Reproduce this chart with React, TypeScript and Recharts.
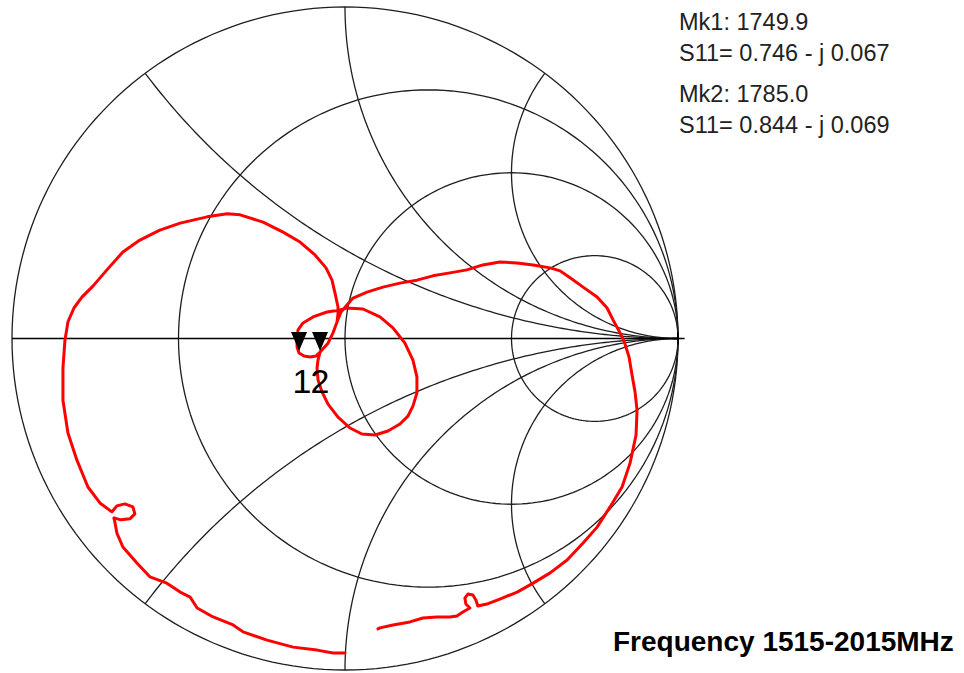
import React from "react";
import { ScatterChart, Scatter, XAxis, YAxis } from "recharts";

type Pt = { x: number; y: number };

// S11 trace as reflection coefficient (real / imaginary), 1515 -> 2015 MHz
const s11Re = [
  0.0, -0.036, -0.084, -0.156, -0.234, -0.306, -0.336, -0.396, -0.444, -0.465,
  -0.495, -0.535, -0.586, -0.625, -0.667, -0.685, -0.691, -0.694, -0.673, -0.646,
  -0.631, -0.637, -0.661, -0.685, -0.7, -0.736, -0.772, -0.805, -0.832, -0.847,
  -0.847, -0.841, -0.832, -0.814, -0.79, -0.757, -0.715, -0.667, -0.616, -0.556,
  -0.495, -0.414, -0.354, -0.315, -0.246, -0.186, -0.135, -0.09, -0.057, -0.039,
  -0.03, -0.021, -0.021, -0.024, -0.036, -0.051, -0.075, -0.081, -0.084, -0.081,
  -0.069, -0.051, -0.021, 0.015, 0.051, 0.09, 0.129, 0.165, 0.189, 0.204,
  0.216, 0.216, 0.204, 0.18, 0.144, 0.105, 0.054, 0.006, -0.015, -0.054,
  -0.096, -0.126, -0.141, -0.144, -0.144, -0.138, -0.123, -0.105, -0.087, -0.072,
  -0.051, -0.036, -0.024, -0.012, 0.006, 0.024, 0.066, 0.114, 0.165, 0.216,
  0.264, 0.315, 0.366, 0.414, 0.465, 0.517, 0.565, 0.616, 0.646, 0.676,
  0.715, 0.757, 0.787, 0.805, 0.826, 0.838, 0.853, 0.862, 0.871, 0.877,
  0.874, 0.856, 0.832, 0.796, 0.757, 0.715, 0.667, 0.616, 0.565, 0.517,
  0.465, 0.426, 0.399, 0.393, 0.384, 0.369, 0.36, 0.363, 0.375, 0.354,
  0.336, 0.315, 0.276, 0.234, 0.195, 0.144, 0.105, 0.099,
];
const s11Im = [
  -0.949, -0.949, -0.94, -0.931, -0.91, -0.885, -0.864, -0.84, -0.813, -0.78,
  -0.765, -0.738, -0.719, -0.677, -0.629, -0.587, -0.554, -0.541, -0.547, -0.544,
  -0.529, -0.508, -0.499, -0.505, -0.523, -0.496, -0.448, -0.367, -0.285, -0.186,
  -0.089, -0.005, 0.05, 0.092, 0.125, 0.158, 0.207, 0.261, 0.297, 0.327,
  0.348, 0.367, 0.376, 0.373, 0.351, 0.321, 0.291, 0.252, 0.213, 0.176,
  0.137, 0.095, 0.074, 0.05, 0.017, -0.014, -0.041, -0.065, -0.089, -0.125,
  -0.161, -0.198, -0.237, -0.27, -0.288, -0.291, -0.279, -0.258, -0.234, -0.204,
  -0.164, -0.116, -0.065, -0.014, 0.032, 0.065, 0.089, 0.092, 0.086, 0.08,
  0.065, 0.047, 0.026, 0.002, -0.026, -0.044, -0.053, -0.056, -0.053, -0.038,
  -0.014, 0.017, 0.05, 0.08, 0.101, 0.122, 0.14, 0.155, 0.167, 0.176,
  0.189, 0.198, 0.207, 0.222, 0.231, 0.228, 0.222, 0.213, 0.204, 0.183,
  0.155, 0.125, 0.092, 0.056, 0.017, -0.008, -0.056, -0.11, -0.161, -0.216,
  -0.291, -0.376, -0.448, -0.508, -0.569, -0.617, -0.668, -0.707, -0.738, -0.765,
  -0.786, -0.801, -0.807, -0.789, -0.774, -0.771, -0.783, -0.801, -0.813, -0.825,
  -0.837, -0.84, -0.84, -0.843, -0.855, -0.864, -0.873, -0.876,
];

const markerNames = ["1", "2"];
const markerRe = [-0.138, -0.075];
const markerIm = [-0.044, -0.044];
const markerFreqs = ["1749.9", "1785.0"];
const markerValues = ["0.746 - j 0.067", "0.844 - j 0.069"];

const resistances = [0, 1 / 3, 1, 3];
const reactances = [0.5, 1, 2];

const FONT = "'Liberation Sans', Arial, Helvetica, sans-serif";
const GRID = "#1e1e1e";

// pixel geometry of the chart circle
const CX = 345;
const CY = 338.5;
const RX = 333;
const RY = 331.5;
const W = 964;
const H = 673;
const X_DOMAIN: [number, number] = [-1.035, 1.05];
const Y_DOMAIN: [number, number] = [-1, 1.02];

function arc(cx: number, cy: number, rad: number, a0: number, a1: number, n = 160): Pt[] {
  const pts: Pt[] = [];
  for (let i = 0; i <= n; i++) {
    const a = a0 + ((a1 - a0) * i) / n;
    pts.push({ x: cx + rad * Math.cos(a), y: cy + rad * Math.sin(a) });
  }
  return pts;
}

function resistanceCircle(r: number): Pt[] {
  return arc(r / (1 + r), 0, 1 / (1 + r), 0, 2 * Math.PI, 200);
}

function reactanceArc(x: number, sign: number): Pt[] {
  const ix = (x * x - 1) / (x * x + 1);
  const iy = (2 * x) / (x * x + 1);
  let a0 = Math.atan2(iy - 1 / x, ix - 1);
  if (a0 < 0) a0 += 2 * Math.PI;
  return arc(1, 1 / x, 1 / x, a0, 1.5 * Math.PI, 160).map((p) => ({ x: p.x, y: p.y * sign }));
}

const gridCurves: Pt[][] = [
  ...resistances.map(resistanceCircle),
  ...reactances.map((x) => reactanceArc(x, 1)),
  ...reactances.map((x) => reactanceArc(x, -1)),
];

const axisLine: Pt[] = [
  { x: -1, y: 0 },
  { x: 1.02, y: 0 },
];
const axisTick: Pt[] = [
  { x: 1, y: 0.018 },
  { x: 1, y: -0.018 },
];

const trace = s11Re.map((re, i) => ({ x: re, y: s11Im[i] }));
const markers = markerNames.map((name, i) => ({ x: markerRe[i], y: markerIm[i], name }));

const NoDot = () => <g />;

const MarkerShape = (props: any) => {
  const { cx, cy, payload } = props;
  // the two labels sit tight together, like "12"
  const dx = payload.name === "1" ? 3 : 0;
  return (
    <g>
      <polygon
        points={`${cx - 8},${cy - 21} ${cx + 8},${cy - 21} ${cx},${cy - 2}`}
        fill="#000"
      />
      <text
        x={cx + dx}
        y={cy + 40}
        textAnchor="middle"
        fontSize={34}
        fontFamily={FONT}
        fill="#000"
      >
        {payload.name}
      </text>
    </g>
  );
};

const marginLeft = CX + X_DOMAIN[0] * RX;
const marginRight = W - (CX + X_DOMAIN[1] * RX);
const marginTop = CY - Y_DOMAIN[1] * RY;
const marginBottom = H - (CY - Y_DOMAIN[0] * RY);

export default function App() {
  return (
    <div
      style={{
        position: "absolute",
        left: 0,
        top: 0,
        width: W,
        height: H,
        overflow: "hidden",
        background: "#fff",
      }}
    >
      <ScatterChart
        width={W}
        height={H}
        margin={{ top: marginTop, right: marginRight, bottom: marginBottom, left: marginLeft }}
      >
        <XAxis type="number" dataKey="x" domain={X_DOMAIN} hide />
        <YAxis type="number" dataKey="y" domain={Y_DOMAIN} hide />
        {gridCurves.map((pts, i) => (
          <Scatter
            key={`grid-${i}`}
            data={pts}
            line={{ stroke: GRID, strokeWidth: 1.3 }}
            shape={NoDot}
            isAnimationActive={false}
          />
        ))}
        <Scatter
          data={axisLine}
          line={{ stroke: "#000", strokeWidth: 1.7 }}
          shape={NoDot}
          isAnimationActive={false}
        />
        <Scatter
          data={axisTick}
          line={{ stroke: "#000", strokeWidth: 1.5 }}
          shape={NoDot}
          isAnimationActive={false}
        />
        <Scatter
          data={trace}
          line={{ stroke: "#ff0000", strokeWidth: 3, strokeLinejoin: "round", strokeLinecap: "round" }}
          shape={NoDot}
          isAnimationActive={false}
        />
        <Scatter data={markers} shape={MarkerShape} isAnimationActive={false} />
      </ScatterChart>
      <svg
        width={W}
        height={H}
        style={{ position: "absolute", left: 0, top: 0, pointerEvents: "none" }}
      >
        <g fontFamily={FONT} fontSize={23.5} fill="#222">
          <text x={679} y={29.5}>{`Mk${markerNames[0]}: ${markerFreqs[0]}`}</text>
          <text x={679} y={61}>{`S11= ${markerValues[0]}`}</text>
          <text x={679} y={102}>{`Mk${markerNames[1]}: ${markerFreqs[1]}`}</text>
          <text x={679} y={133}>{`S11= ${markerValues[1]}`}</text>
        </g>
        <text x={613} y={651} fontFamily={FONT} fontSize={28} fontWeight="bold" fill="#000">
          Frequency 1515-2015MHz
        </text>
      </svg>
    </div>
  );
}
